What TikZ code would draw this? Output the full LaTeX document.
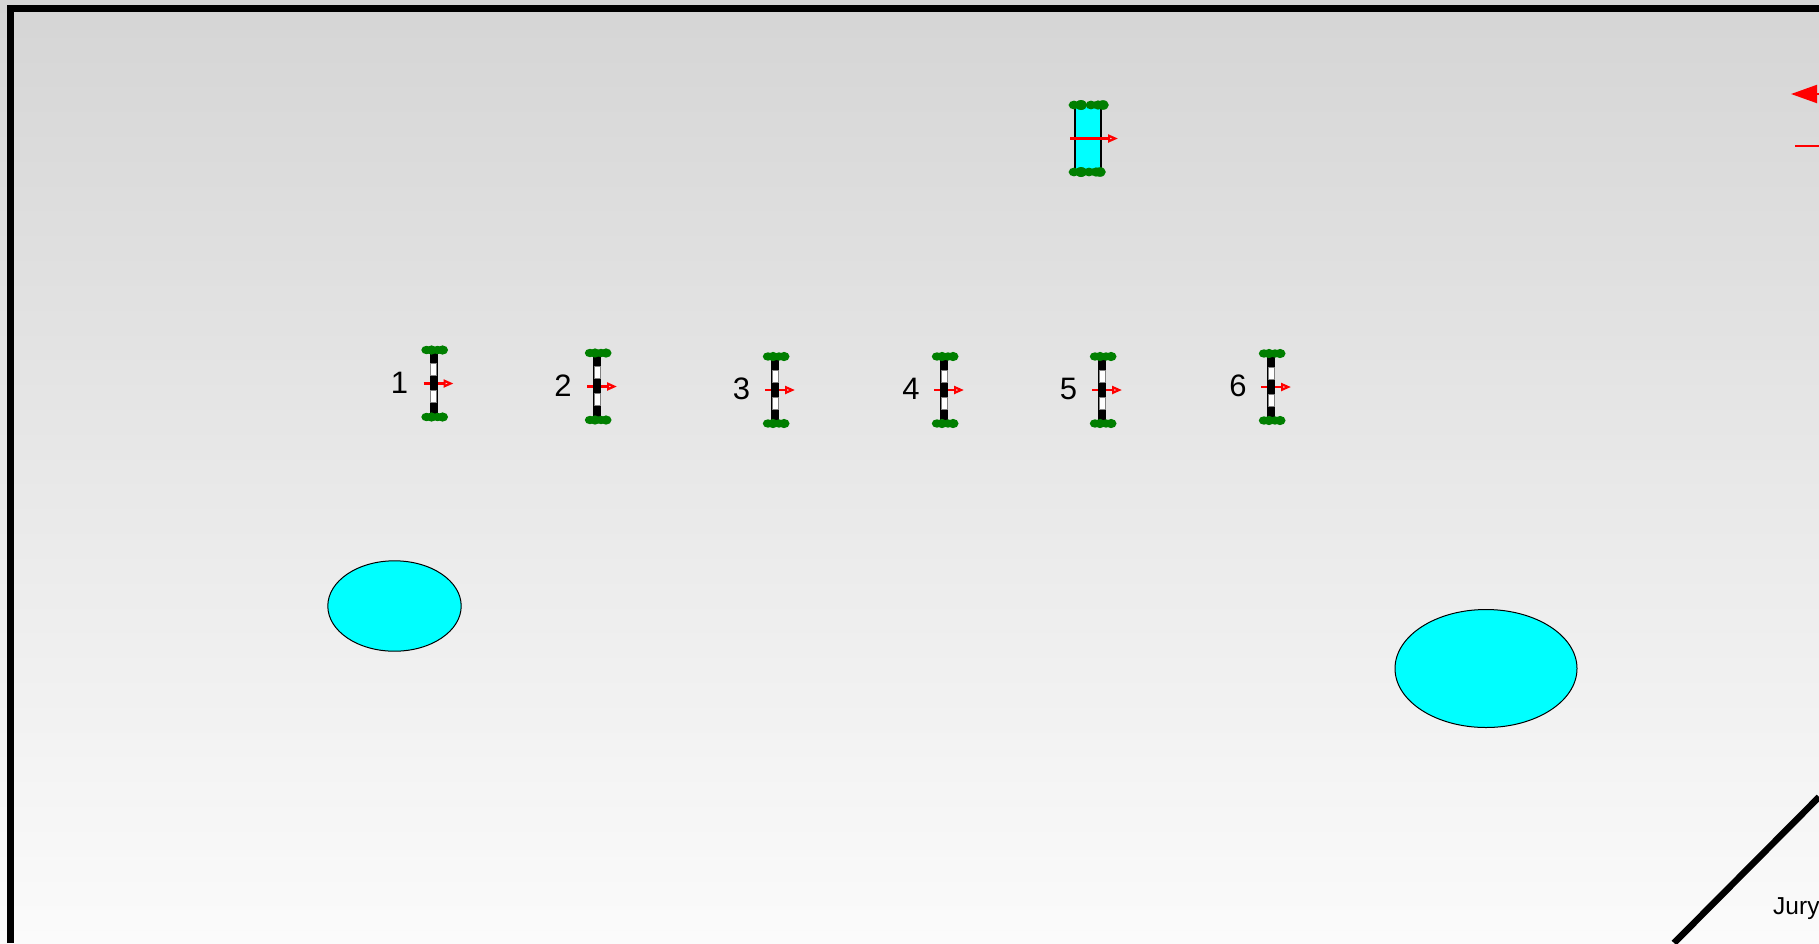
\documentclass[tikz,border=0pt]{standalone}
\usepackage{fontspec}
\setmainfont{Liberation Sans}
\usetikzlibrary{arrows.meta}
\definecolor{leafgreen}{HTML}{007F00}
\definecolor{pondblue}{HTML}{00FFFF}
\definecolor{skytop}{HTML}{D5D5D5}
\definecolor{skybottom}{HTML}{FBFBFB}

\begin{document}
\begin{tikzpicture}[x=1pt,y=-1pt,>=Latex,
  frameline/.style={line width=6.5pt},
  pond/.style={draw=black,line width=1pt,fill=pondblue},
  dirarrow/.style={draw=red,line width=2.2pt,-{Triangle[open,length=10pt,width=8pt]}},
  bush/.style={fill=leafgreen,draw=none},
  lab/.style={font=\fontsize{31}{31}\selectfont,inner sep=0pt,text=black}]
\useasboundingbox (0,0) rectangle (1819,943);
\clip (0,0) rectangle (1819,943);
\shade[top color=skytop,bottom color=skybottom] (0,0) rectangle (1819,943);
% frame
\draw[frameline] (10.5,943)--(10.5,8.3)--(1819,8.3);
\draw[frameline] (1674,943)--(1819,797);
\node[font=\fontsize{24.5}{24.5}\selectfont,anchor=base west,inner sep=0pt] (jury) at (1773,914) {Jury};
% ponds
\draw[pond] (394.5,606) ellipse [x radius=66.7,y radius=45.2];
\draw[pond] (1486,668.5) ellipse [x radius=91,y radius=59];
% gates
\foreach \n/\x/\y/\lx/\ly in {1/433.5/383.5/399.5/382.5,2/597/386.5/563/385.5,3/775/390/741.5/388.5,4/944/390/911/388.5,5/1102/390/1068.5/388.5,6/1271/387/1238/385.5}{
  \draw[dirarrow] (\x-10,\y)--(\x+20,\y);
  \fill (\x-4,\y-31) rectangle (\x+4,\y+30);
  \draw[fill=white,draw=gray,line width=1pt] (\x-3,\y-20) rectangle (\x+3,\y-8);
  \draw[fill=white,draw=gray,line width=1pt] (\x-3,\y+7) rectangle (\x+3,\y+19);
  \foreach \b/\r in {-7/4.2,-2/4.6,4/4.2,9/4.6}{
    \fill[bush] (\x+\b,\y-33.5) ellipse [x radius=\r+1,y radius=\r];
    \fill[bush] (\x+\b,\y+33.5) ellipse [x radius=\r+1,y radius=\r];
  }
  \node[lab] (num\n) at (\lx,\ly) {\n};
}
% wide gate
\fill[pondblue] (1075,107) rectangle (1101,170);
\draw[black,line width=2.4pt] (1075,107)--(1075,170) (1101,107)--(1101,170);
\foreach \b/\r in {1074/4.4,1081/5,1091/4.4,1098/4.6,1103/4.8}{\fill[bush] (\b,105) ellipse [x radius=\r+1,y radius=\r];}
\foreach \b/\r in {1074/4.4,1081/5,1089/4.4,1096/4.6,1100/4.8}{\fill[bush] (\b,172) ellipse [x radius=\r+1,y radius=\r];}
\draw[dirarrow] (1070,138.5)--(1118,138.5);
% legend arrows
\draw[red,line width=2pt,{Triangle[length=26pt,width=18pt]}-] (1791,94)--(1825,94);
\draw[red,line width=2pt] (1795,146)--(1819,146);
\end{tikzpicture}
\end{document}
